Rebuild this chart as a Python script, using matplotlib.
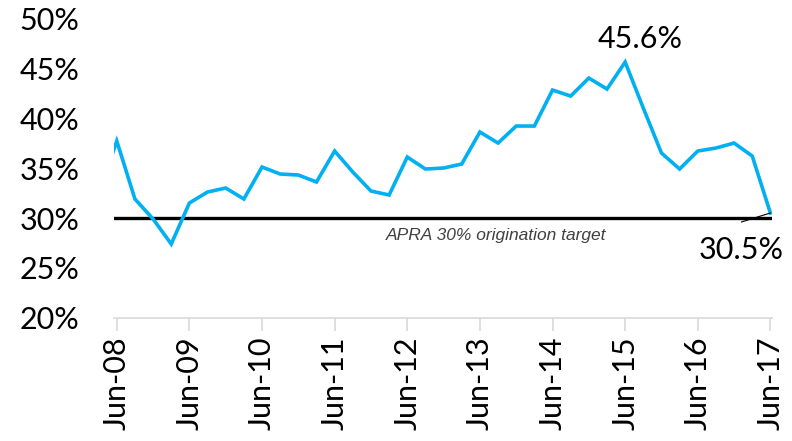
import matplotlib
matplotlib.use("Agg")
import matplotlib.pyplot as plt
import numpy as np

# share of new loans (quarterly), Mar-08 to Jun-17
quarters = ["Mar-08",
            "Jun-08", "Sep-08", "Dec-08", "Mar-09",
            "Jun-09", "Sep-09", "Dec-09", "Mar-10",
            "Jun-10", "Sep-10", "Dec-10", "Mar-11",
            "Jun-11", "Sep-11", "Dec-11", "Mar-12",
            "Jun-12", "Sep-12", "Dec-12", "Mar-13",
            "Jun-13", "Sep-13", "Dec-13", "Mar-14",
            "Jun-14", "Sep-14", "Dec-14", "Mar-15",
            "Jun-15", "Sep-15", "Dec-15", "Mar-16",
            "Jun-16", "Sep-16", "Dec-16", "Mar-17", "Jun-17"]
share = [32.4,
         37.7, 31.9, 29.9, 27.4,
         31.5, 32.6, 33.0, 31.9,
         35.1, 34.4, 34.3, 33.6,
         36.7, 34.6, 32.7, 32.3,
         36.1, 34.9, 35.0, 35.4,
         38.6, 37.5, 39.2, 39.2,
         42.8, 42.2, 44.0, 42.9,
         45.6, 41.0, 36.5, 34.9,
         36.7, 37.0, 37.5, 36.2, 30.5]
target = 30.0
tick_labels = ["Jun-08", "Jun-09", "Jun-10", "Jun-11", "Jun-12",
               "Jun-13", "Jun-14", "Jun-15", "Jun-16", "Jun-17"]

plt.rcParams['font.family'] = ['Lato', 'DejaVu Sans']

x = np.arange(len(share)) - 1  # Jun-08 at 0
fig = plt.figure(figsize=(7.92, 4.41), dpi=100)
ax = fig.add_axes([0.144, 0.279, 0.831, 0.68])

ax.axhline(target, color='black', lw=2.4, zorder=2)
ax.plot(x, share, color='#00B0F0', lw=2.6, solid_joinstyle='miter', zorder=3)

ax.set_xlim(-0.15, 36.1)
ax.set_ylim(20, 50)
ax.set_yticks(np.arange(20, 51, 5))
ax.set_yticklabels([f"{v}%" for v in range(20, 51, 5)])
ax.set_xticks(np.arange(0, 37, 4))
ax.set_xticklabels(tick_labels, rotation=90)

for s in ['top', 'right', 'left']:
    ax.spines[s].set_visible(False)
ax.spines['bottom'].set_color('#d9d9d9')
ax.spines['bottom'].set_linewidth(1.2)
ax.tick_params(axis='y', length=0, pad=25, labelsize=22)
ax.tick_params(axis='x', length=9, width=1.2, color='#d9d9d9', pad=4, labelsize=22)

ax.text(20.9, 28.2, "APRA 30% origination target", family='Liberation Sans',
        style='italic', fontsize=12.5, color='#404040', ha='center', va='center')

peak = int(np.argmax(share))
ax.text(x[peak] + 0.8, share[peak] + 2.3, f"{share[peak]}%", fontsize=22,
        ha='center', va='center')

# end value label with a short leader line
ax.text(34.4, 26.8, f"{share[-1]}%", fontsize=22, ha='center', va='center')
ax.annotate("", xy=(x[-1], share[-1]), xytext=(34.4, 29.6),
            arrowprops=dict(arrowstyle='-', color='black', lw=0.8,
                            shrinkA=0, shrinkB=0))

fig.savefig("out.png", dpi=100)
